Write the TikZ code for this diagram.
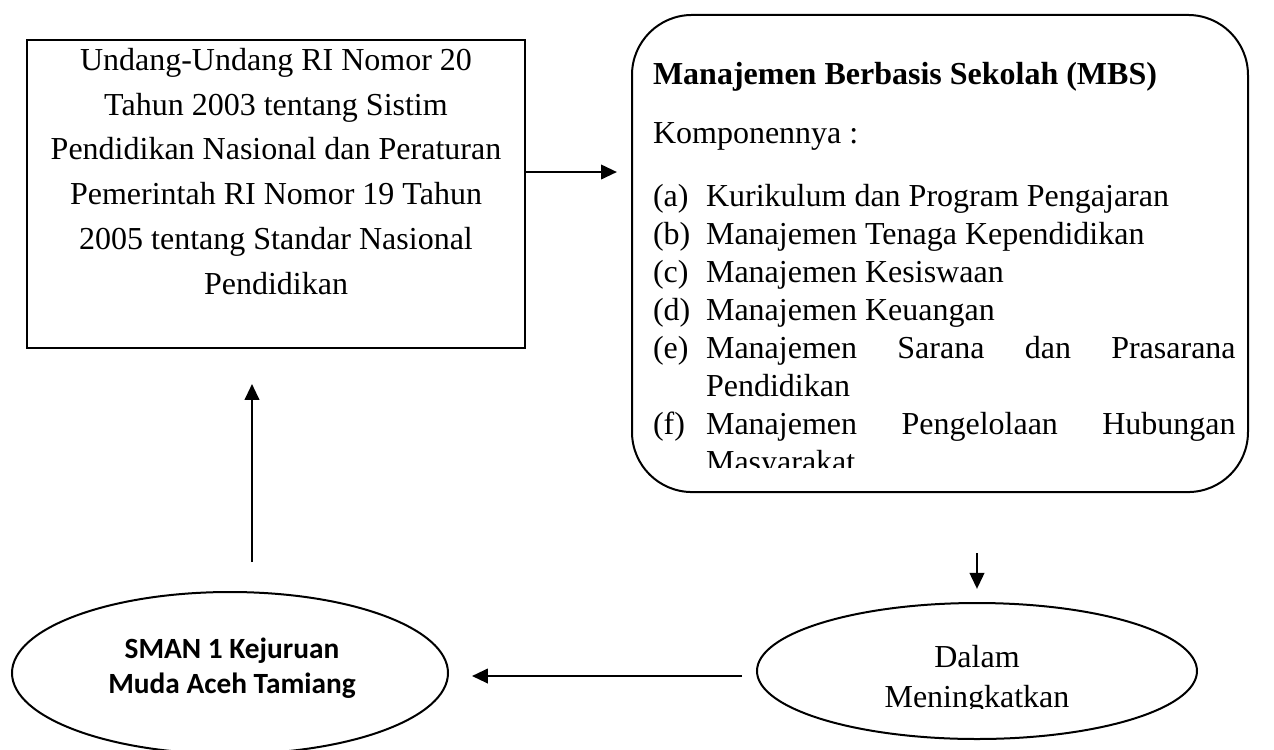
\documentclass[tikz,border=0pt]{standalone}
\usepackage{fontspec}
\setmainfont{Liberation Serif}
\newfontfamily\calibri{Carlito}
\usetikzlibrary{positioning, calc, shapes, arrows.meta}

\begin{document}
\begin{tikzpicture}[x=0.375pt, y=-0.375pt, line width=0.75pt,
  font=\fontsize{12pt}{16.8pt}\selectfont,
  arr/.style={line width=1pt, -{Triangle[length=6pt, width=5.4pt]}},
  oval/.style={ellipse, draw, inner sep=0pt}]

% Manually size the picture
\useasboundingbox (0, 0) rectangle (1274, 749);

% Law box
\node[draw, minimum width=186.75pt, minimum height=115.5pt] (uu) at (276, 194) {};
\node[anchor=north, inner sep=0pt, align=center] (uutext) at (276, 47)
  {Undang-Undang RI Nomor 20\\ Tahun 2003 tentang Sistim\\ Pendidikan Nasional dan Peraturan\\
   Pemerintah RI Nomor 19 Tahun\\ 2005 tentang Standar Nasional\\ Pendidikan};

% MBS box
\node[draw, rounded corners=22.5pt, minimum width=231pt, minimum height=178.9pt] (mbs) at (940, 253.5) {};
\begin{scope}
  \clip (620, 0) rectangle (1260, 467);
  \node[anchor=north west, inner sep=0pt, text width=218.5pt, align=justify] (mbstext) at (652, 61)
  {\hyphenpenalty=10000 \fontsize{12pt}{14.25pt}\selectfont
   \noindent\textbf{Manajemen Berbasis Sekolah (MBS)}\par\vspace{7.9pt}
   \noindent Komponennya :\par\vspace{9.3pt}
   \hangindent=19.9pt \hangafter=1 \noindent\makebox[19.9pt][l]{(a)}Kurikulum dan Program Pengajaran\par
   \hangindent=19.9pt \hangafter=1 \noindent\makebox[19.9pt][l]{(b)}Manajemen Tenaga Kependidikan\par
   \hangindent=19.9pt \hangafter=1 \noindent\makebox[19.9pt][l]{(c)}Manajemen Kesiswaan\par
   \hangindent=19.9pt \hangafter=1 \noindent\makebox[19.9pt][l]{(d)}Manajemen Keuangan\par
   \hangindent=19.9pt \hangafter=1 \noindent\makebox[19.9pt][l]{(e)}Manajemen Sarana dan Prasarana\linebreak Pendidikan\par
   \hangindent=19.9pt \hangafter=1 \noindent\makebox[19.9pt][l]{(f)}Manajemen Pengelolaan Hubungan\linebreak Masyarakat\par};
\end{scope}

% School
\node[oval, minimum width=163.5pt, minimum height=60.75pt] (sman) at (230, 673) {};
\node[align=center, font=\calibri\bfseries\fontsize{11pt}{13.1pt}\selectfont] (smantext) at (232, 668.5)
  {SMAN 1 Kejuruan\\ Muda Aceh Tamiang};

% Improving
\node[oval, minimum width=165pt, minimum height=51pt] (dalam) at (977, 671) {};
\begin{scope}
  \clip (740, 600) rectangle (1210, 708);
  \node[align=center, font=\fontsize{12pt}{15pt}\selectfont] (dalamtext) at (977, 680)
    {Dalam\\ Meningkatkan};
\end{scope}

% Arrows
\coordinate (ua) at ($(uu.east)+(0,-22)$);
\draw[arr, shorten >=5.25pt] (ua) -- (ua -| mbs.west);
\draw[arr, shorten <=22.5pt, shorten >=4.9pt] (dalam.north |- mbs.south) -- (dalam.north);
\coordinate (da) at ($(dalam.west)+(-14,5)$);
\draw[arr, shorten >=8.6pt] (da) -- (da -| sman.east);
\coordinate (sa) at ($(sman.north)+(22,-29)$);
\draw[arr, shorten >=13.1pt] (sa) -- (sa |- uu.south);

\end{tikzpicture}
\end{document}
